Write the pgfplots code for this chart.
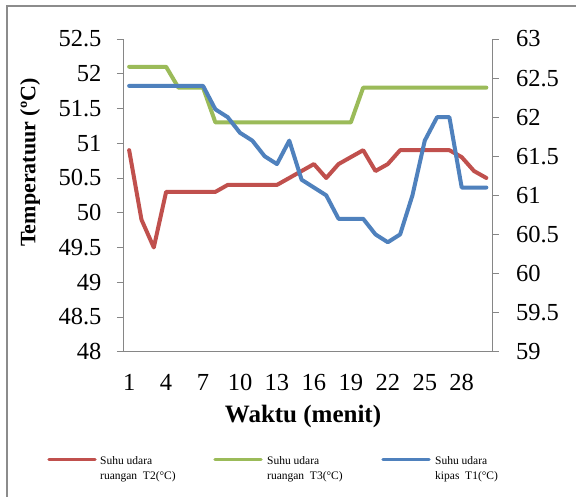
\documentclass[border=0pt]{standalone}
\usepackage{pgfplots}
\pgfplotsset{compat=1.18}
\usepackage{fontspec}
\setmainfont{Liberation Serif}
\definecolor{cred}{HTML}{C0504D}
\definecolor{cgreen}{HTML}{9BBB59}
\definecolor{cblue}{HTML}{4F81BD}
\definecolor{axgray}{HTML}{868686}
\definecolor{framegray}{HTML}{8C8C8C}

\pgfplotstableread{
x red green
1 50.9 52.1
2 49.9 52.1
3 49.5 52.1
4 50.3 52.1
5 50.3 51.8
6 50.3 51.8
7 50.3 51.8
8 50.3 51.3
9 50.4 51.3
10 50.4 51.3
11 50.4 51.3
12 50.4 51.3
13 50.4 51.3
14 50.5 51.3
15 50.6 51.3
16 50.7 51.3
17 50.5 51.3
18 50.7 51.3
19 50.8 51.3
20 50.9 51.8
21 50.6 51.8
22 50.7 51.8
23 50.9 51.8
24 50.9 51.8
25 50.9 51.8
26 50.9 51.8
27 50.9 51.8
28 50.8 51.8
29 50.6 51.8
30 50.5 51.8
}\lefttable

\pgfplotstableread{
x blue
1 62.4
2 62.4
3 62.4
4 62.4
5 62.4
6 62.4
7 62.4
8 62.1
9 62.0
10 61.8
11 61.7
12 61.5
13 61.4
14 61.7
15 61.2
16 61.1
17 61.0
18 60.7
19 60.7
20 60.7
21 60.5
22 60.4
23 60.5
24 61.0
25 61.7
26 62.0
27 62.0
28 61.1
29 61.1
30 61.1
}\righttable

\begin{document}
\begin{tikzpicture}[x=1pt,y=1pt]
\useasboundingbox (0,0) rectangle (576,497);
\fill[white] (0,0) rectangle (576,497);
\draw[framegray, line width=2pt] (7,-5) -- (7,491) -- (590,491);

\pgfplotsset{
  common/.style={
    at={(123pt,145.3pt)}, anchor=south west, scale only axis,
    width=369.5pt, height=312.7pt,
    xmin=0.5, xmax=30.5,
    axis line style={-, axgray, line width=1pt},
    tick style={axgray, line width=0.8pt},
    major tick length=6pt, tick align=outside,
    ticklabel style={font=\fontsize{24.5}{24.5}\selectfont},
    /pgf/number format/assume math mode=true,
    /pgf/number format/.cd, fixed, precision=1,
  }
}

\begin{axis}[common,
  ymin=48, ymax=52.5,
  axis x line*=bottom, axis y line*=left,
  xtick={1,4,7,10,13,16,19,22,25,28},
  xtick style={draw=none},
  ytick={48,48.5,49,49.5,50,50.5,51,51.5,52,52.5},
  yticklabel style={xshift=-12pt},
  xticklabel style={yshift=-13pt},
]
\addplot[cred, line width=4pt, line join=round, line cap=round] table[x=x,y=red] {\lefttable};
\addplot[cgreen, line width=4pt, line join=round, line cap=round] table[x=x,y=green] {\lefttable};
\end{axis}

\begin{axis}[common,
  ymin=59, ymax=63,
  axis y line*=right, axis x line=none,
  ytick={59,59.5,60,60.5,61,61.5,62,62.5,63},
  yticklabel style={anchor=west, xshift=14pt},
]
\addplot[cblue, line width=4pt, line join=round, line cap=round] table[x=x,y=blue] {\righttable};
\end{axis}

\node[rotate=90, font=\fontsize{22}{22}\selectfont\bfseries] at (30,334.5) {Temperatuur (ºC)};
\node[font=\fontsize{25}{25}\selectfont\bfseries] at (303,81) {Waktu (menit)};

\begin{scope}[every node/.style={font=\fontsize{11.5}{11.5}\selectfont, anchor=west, inner sep=0pt, text height=8pt, text depth=2.5pt}]
\draw[cred, line width=3.5pt, line cap=round] (49,37.7) -- (95,37.7);
\node at (100,35.3) {Suhu udara};
\node at (100,20.3) {ruangan~~T2(°C)};
\draw[cgreen, line width=3.5pt, line cap=round] (215,37.7) -- (261,37.7);
\node at (267,35.3) {Suhu udara};
\node at (267,20.3) {ruangan~~T3(°C)};
\draw[cblue, line width=3.5pt, line cap=round] (383,37.7) -- (429,37.7);
\node at (435,35.3) {Suhu udara};
\node at (435,20.3) {kipas~~T1(°C)};
\end{scope}
\end{tikzpicture}
\end{document}
